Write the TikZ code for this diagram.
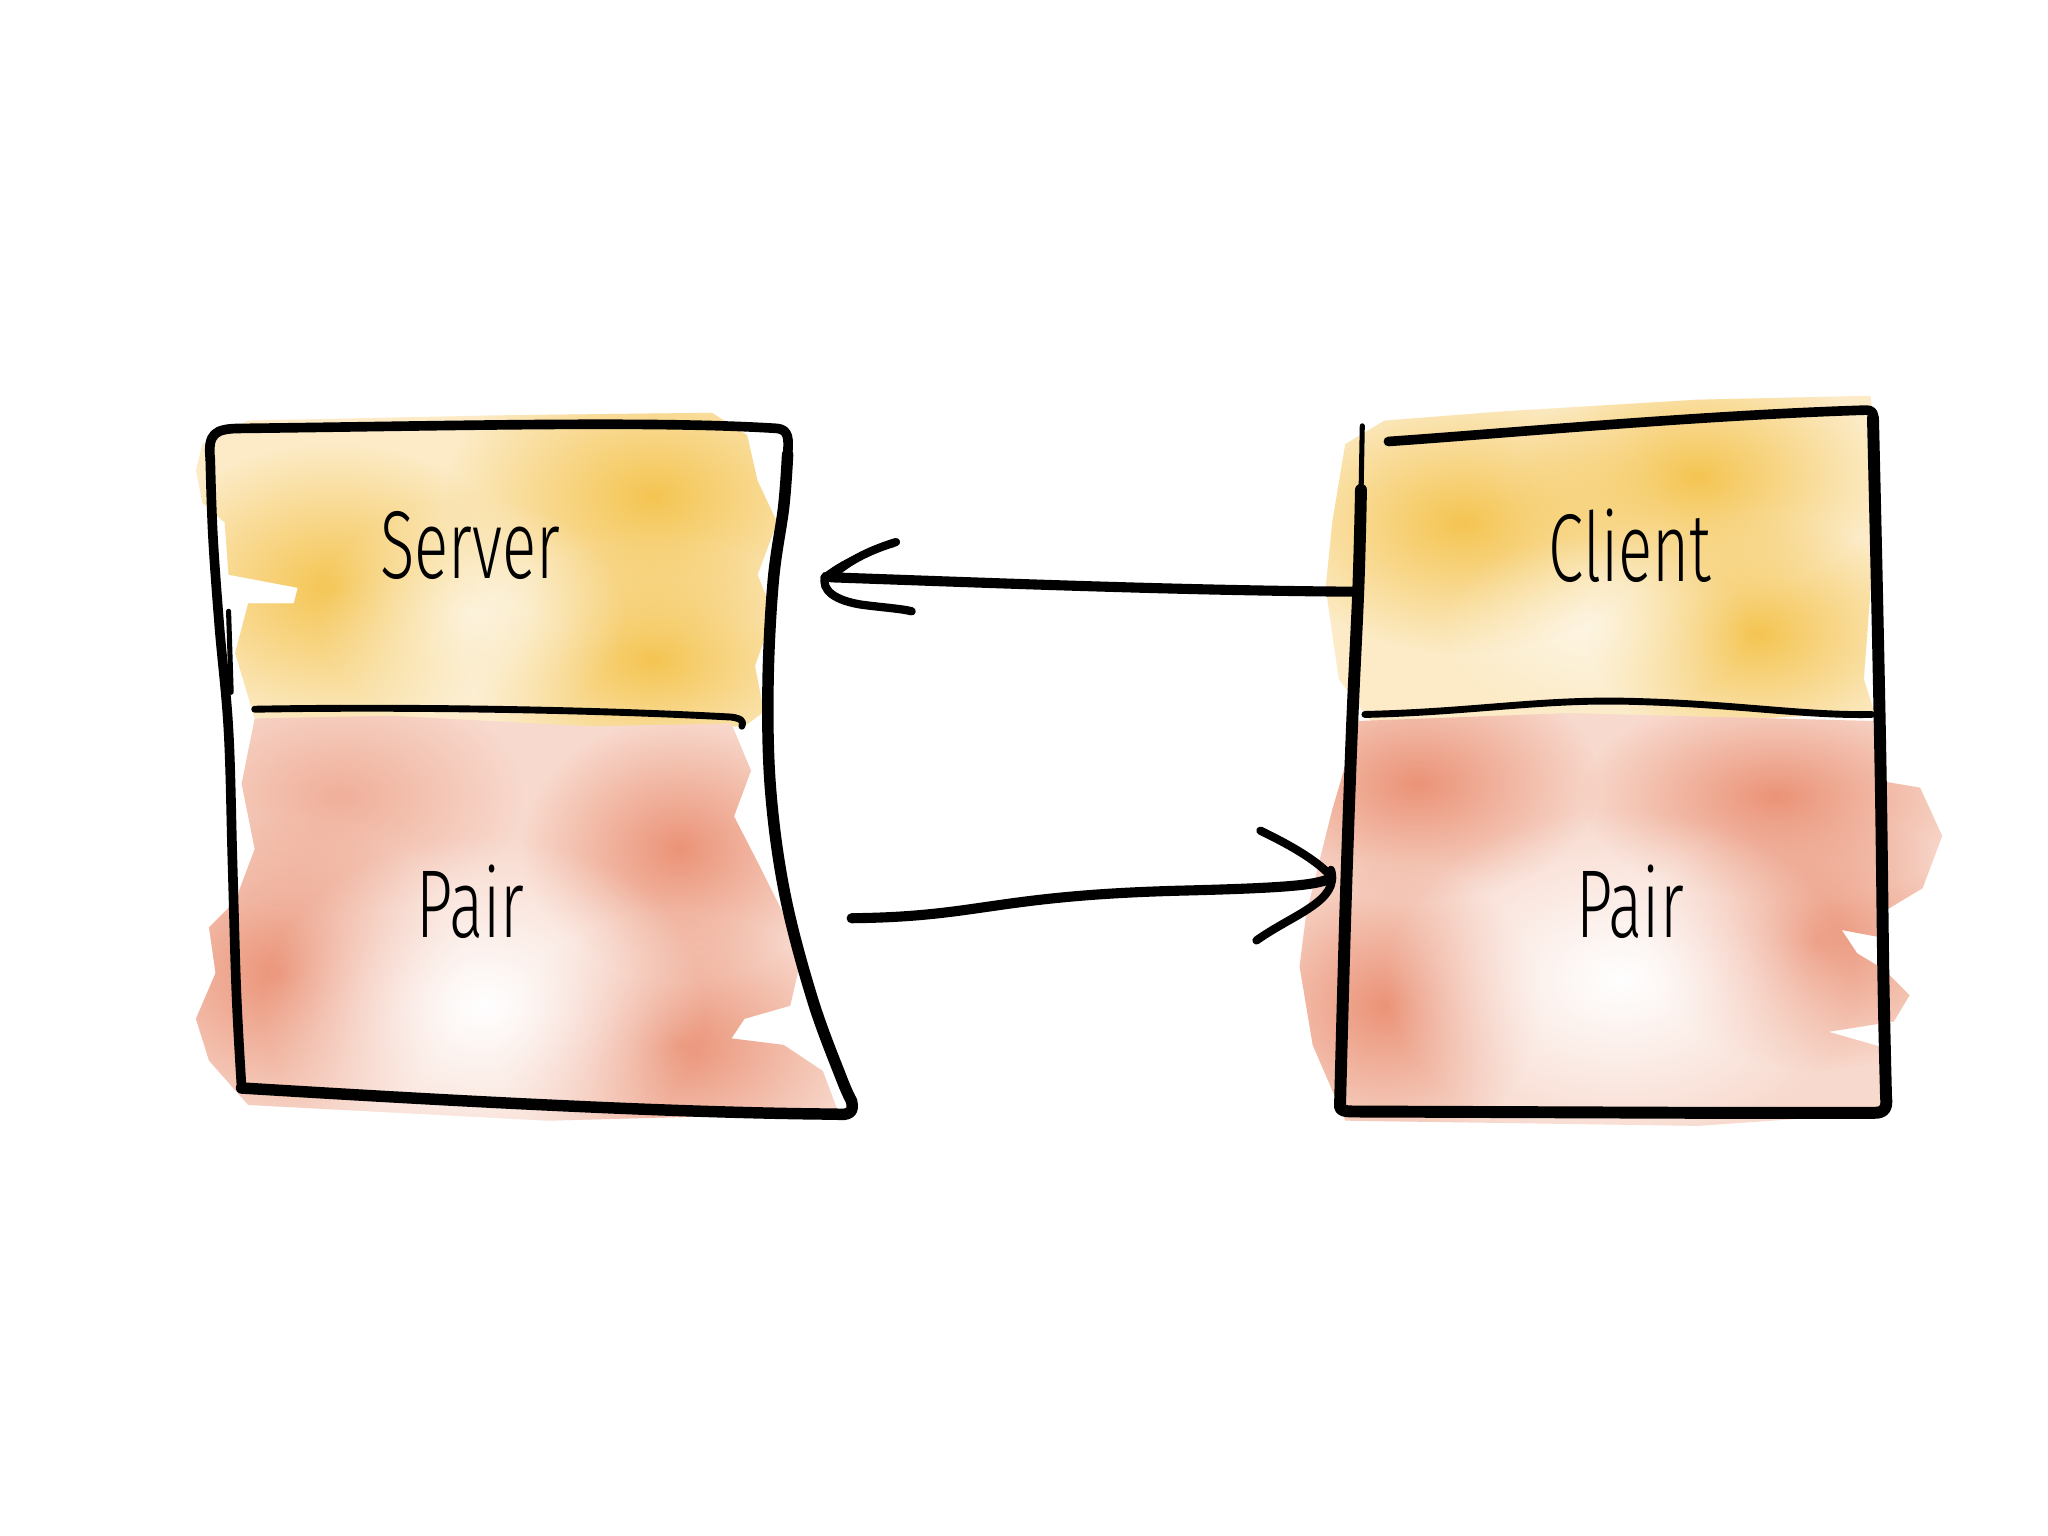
\documentclass[tikz,border=0pt]{standalone}
\usepackage{fontspec}
\setmainfont{Fira Sans Light}
\usetikzlibrary{fadings}
\tikzfading[name=softblob, inner color=transparent!0, outer color=transparent!100]
\definecolor{ydark}{HTML}{F5C552}
\definecolor{ylight}{HTML}{FCEBC6}
\definecolor{pdark}{HTML}{EB9377}
\definecolor{plight}{HTML}{F8D9CD}
\tikzset{
  ink/.style={line width=2.1pt, line cap=round, line join=round},
  fineink/.style={line width=1.1pt, line cap=round, line join=round},
  lbl/.style={font=\fontsize{21}{24}\selectfont, inner sep=0pt},
  yblob/.style={fill=ydark, path fading=softblob},
  pblob/.style={fill=pdark, path fading=softblob},
  wblob/.style={fill=white, path fading=softblob},
}
\newcommand\hw[1]{\scalebox{0.66}[1]{#1}}
\begin{document}
\begin{tikzpicture}[x=0.1mm,y=-0.1mm]
\useasboundingbox[fill=white] (0,0) rectangle (1568,1176);

% ---------- watercolour: left yellow ----------
\begin{scope}
\clip (155,340) -- (190,322) -- (380,318) -- (545,316) -- (572,333) -- (580,368) -- (595,400) -- (580,440) -- (592,470) -- (578,510) -- (585,545) -- (570,556) -- (450,560) -- (300,552) -- (195,550) -- (180,500) -- (190,462) -- (225,462) -- (228,450) -- (175,440) -- (172,400) -- (155,385) -- (150,360) -- cycle;
\fill[ylight] (140,300) rectangle (610,570);
\fill[yblob] (255,450) ellipse [x radius=150, y radius=110];
\fill[yblob] (500,380) ellipse [x radius=160, y radius=110];
\fill[yblob] (500,505) ellipse [x radius=140, y radius=90];
\fill[wblob,opacity=0.6] (360,470) ellipse [x radius=120, y radius=90];
\end{scope}
% ---------- left pink ----------
\begin{scope}
\clip (195,550) -- (300,548) -- (450,556) -- (560,554) -- (575,590) -- (562,625) -- (580,660) -- (600,700) -- (612,740) -- (605,770) -- (570,780) -- (560,795) -- (600,800) -- (630,820) -- (642,852) -- (420,858) -- (190,846) -- (160,812) -- (150,780) -- (165,745) -- (160,710) -- (180,690) -- (195,650) -- (185,600) -- cycle;
\fill[plight] (140,540) rectangle (660,870);
\fill[pblob] (215,745) ellipse [x radius=140, y radius=120];
\fill[pblob] (520,800) ellipse [x radius=140, y radius=100];
\fill[pblob] (520,650) ellipse [x radius=120, y radius=100];
\fill[pblob,opacity=0.6] (260,610) ellipse [x radius=140, y radius=90];
\fill[wblob] (370,770) ellipse [x radius=170, y radius=130];
\end{scope}
% ---------- right yellow ----------
\begin{scope}
\clip (1020,400) -- (1030,340) -- (1060,322) -- (1150,315) -- (1300,306) -- (1432,303) -- (1436,330) -- (1433,440) -- (1427,520) -- (1435,545) -- (1300,553) -- (1050,553) -- (1025,520) -- (1015,450) -- cycle;
\fill[ylight] (1000,290) rectangle (1450,570);
\fill[yblob] (1120,400) ellipse [x radius=150, y radius=100];
\fill[yblob] (1300,365) ellipse [x radius=140, y radius=90];
\fill[yblob] (1345,485) ellipse [x radius=130, y radius=90];
\fill[wblob,opacity=0.5] (1220,480) ellipse [x radius=120, y radius=70];
\end{scope}
% ---------- right pink ----------
\begin{scope}
\clip (1040,552) -- (1200,546) -- (1435,552) -- (1440,598) -- (1470,603) -- (1487,640) -- (1472,680) -- (1442,698) -- (1442,718) -- (1410,712) -- (1422,730) -- (1442,742) -- (1462,762) -- (1450,782) -- (1400,790) -- (1442,802) -- (1442,852) -- (1300,862) -- (1030,858) -- (1005,800) -- (995,740) -- (1000,700) -- (1020,620) -- cycle;
\fill[plight] (990,540) rectangle (1500,870);
\fill[pblob] (1085,600) ellipse [x radius=140, y radius=90];
\fill[pblob] (1360,610) ellipse [x radius=150, y radius=80];
\fill[pblob] (1390,720) ellipse [x radius=130, y radius=100];
\fill[pblob] (1060,770) ellipse [x radius=120, y radius=110];
\fill[wblob] (1240,750) ellipse [x radius=180, y radius=130];
\end{scope}

% ---------- left box (Server / Pair) ----------
\draw[ink] (161,352) .. controls (159,332) and (164,328) .. (185,328)
  .. controls (350,326) and (500,322) .. (595,328)
  .. controls (604,329) and (604,336) .. (603,348);
\draw[ink, line width=2.5pt] plot[smooth, tension=0.6] coordinates {(603,348) (600,388) (592,445) (588,525) (590,605) (601,685) (622,765) (644,825) (652,843)}
  .. controls (654,852) and (650,854) .. (640,853)
  .. controls (500,852) and (300,840) .. (185,833);
\draw[ink] plot[smooth, tension=0.6] coordinates {(185,833) (181,760) (178,660) (175,560) (168,480) (163,410) (161,352)};
\draw[fineink] (175,468) -- (177,530);
\draw[fineink, line width=1.5pt] (195,543) .. controls (300,541) and (450,543) .. (560,549) .. controls (567,550) and (570,552) .. (568,556);

% ---------- right box (Client / Pair) ----------
\draw[fineink] (1043,326) -- (1042,380);
\draw[ink, line width=2.6pt] plot[smooth, tension=0.6] coordinates {(1042,375) (1040,450) (1035,560) (1030,700) (1026,845)}
  .. controls (1025,851) and (1030,851) .. (1040,851) -- (1300,852) -- (1435,852)
  .. controls (1443,852) and (1445,848) .. (1444,840);
\draw[ink, line width=2.6pt] plot[smooth, tension=0.6] coordinates {(1444,840) (1442,750) (1440,600) (1437,450) (1434,320)};
\draw[ink] (1063,338) .. controls (1150,332) and (1300,318) .. (1428,314) .. controls (1434,314) and (1435,316) .. (1434,322);
\draw[fineink, line width=1.5pt] (1045,547) .. controls (1130,545) and (1180,535) .. (1250,537) .. controls (1330,539) and (1380,548) .. (1433,547);

% ---------- labels ----------
\node[lbl] (server) at (360,418) {\hw{Server}};
\node[lbl] (spair)  at (360,690) {\hw{Pair}};
\node[lbl] (client) at (1248,418) {\hw{Client}};
\node[lbl] (cpair)  at (1248,690) {\hw{Pair}};

% ---------- connectors ----------
\coordinate (c1from) at (1035,453);
\coordinate (c1to)   at (636,442);
\coordinate (c2from) at (652,703);
\coordinate (c2to)   at (1019,672);
\draw[ink, line width=2.2pt] (c1from) .. controls (900,452) and (750,446) .. (c1to);
\draw[ink, line width=1.8pt] (c1to) .. controls (650,428) and (670,420) .. (686,415);
\draw[fineink] (630,442) .. controls (645,430) and (665,421) .. (684,417);
\draw[ink, line width=1.8pt] (632,441) .. controls (628,452) and (640,460) .. (660,463) .. controls (675,465) and (690,466) .. (698,468);

\draw[ink, line width=2.2pt] (c2from) .. controls (750,702) and (760,686) .. (900,682) .. controls (980,680) and (1010,678) .. (c2to);
\draw[ink, line width=1.8pt] (965,636) .. controls (990,648) and (1010,660) .. (1020,672);
\draw[ink, line width=1.8pt] (1019,666) .. controls (1026,690) and (990,700) .. (962,720);
\end{tikzpicture}
\end{document}
